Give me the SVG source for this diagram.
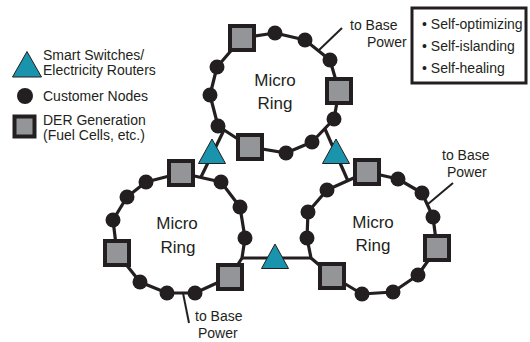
<svg xmlns="http://www.w3.org/2000/svg" width="530" height="342" viewBox="0 0 530 342">
<style>
.ring{fill:none;stroke:#231f20;stroke-width:3.2;stroke-linejoin:round}
.ln{stroke:#231f20;stroke-width:3.2;fill:none}
.thin{stroke:#231f20;stroke-width:2;fill:none}
.dot{fill:#231f20}
.sq{fill:#939598;stroke:#231f20;stroke-width:4}
.tri{fill:#1a93ad;stroke:#231f20;stroke-width:1}
text{font-family:"Liberation Sans",Arial,sans-serif;fill:#231f20}
.lg{font-size:14px}
.rl{font-size:17px;text-anchor:middle}
.bp{font-size:14px}
.bx{font-size:14px}
</style>
<defs>
<circle id="d" r="7.5" class="dot"/>
<rect id="s" x="-12" y="-12" width="24" height="24" class="sq"/>
<path id="t" d="M0,-13 L13.5,11.5 L-13.5,11.5 Z" class="tri"/>
</defs>

<g id="connectors">
<polygon class="ring" points="242,38 275,33 305,40 330,60 339,91 334,119 312,142 286,153 250,147 218,126 210,95 217,67"/>
<polygon class="ring" points="181,173 221,182 240,207 245,238 242,258 230,277 195,293 167,293 140,282 117,253 113,220 127,197 146,182"/>
<polygon class="ring" points="367,172 398,179 422,193 433,217 437,248 418,275 393,292 362,294 332,276 311,258 307,238 308,212 327,190"/>
<path class="ln" d="M224,130 L201,177"/>
<path class="ln" d="M325,129 L348,181"/>
<path class="ln" d="M242,258 L311,258"/>
<path class="thin" d="M318,51 L342,28"/>
<path class="thin" d="M183,293 L189,323"/>
<path class="thin" d="M428,204 L453,183"/>
</g>

<g id="legend">
<path d="M27,51.5 L41.5,77 L12.5,77 Z" class="tri"/>
<text class="lg" x="43" y="60">Smart Switches/</text>
<text class="lg" x="43" y="75">Electricity Routers</text>
<circle cx="25" cy="96" r="8" class="dot"/>
<text class="lg" x="43" y="101">Customer Nodes</text>
<rect x="14.5" y="116.5" width="20" height="20" class="sq"/>
<text class="lg" x="43" y="125">DER Generation</text>
<text class="lg" x="43" y="140">(Fuel Cells, etc.)</text>
</g>

<g id="features">
<rect x="412" y="8" width="114" height="75" fill="none" stroke="#231f20" stroke-width="3"/>
<text class="bx" x="422" y="29">• Self-optimizing</text>
<text class="bx" x="422" y="51">• Self-islanding</text>
<text class="bx" x="422" y="72.5">• Self-healing</text>
</g>

<g id="ring-top">
<use href="#s" x="242" y="38"/><use href="#d" x="275" y="33"/><use href="#d" x="305" y="40"/><use href="#d" x="330" y="60"/>
<use href="#s" x="339" y="91"/><use href="#d" x="334" y="119"/><use href="#d" x="312" y="142"/><use href="#d" x="286" y="153"/>
<use href="#s" x="250" y="147"/><use href="#d" x="218" y="126"/><use href="#d" x="210" y="95"/><use href="#d" x="217" y="67"/>
<text class="rl" x="275" y="86">Micro</text>
<text class="rl" x="275" y="109">Ring</text>
</g>

<g id="ring-left">
<use href="#s" x="181" y="173"/><use href="#d" x="221" y="182"/><use href="#d" x="240" y="207"/><use href="#d" x="245" y="238"/>
<use href="#s" x="230" y="277"/><use href="#d" x="195" y="293"/><use href="#d" x="167" y="293"/><use href="#d" x="140" y="282"/>
<use href="#s" x="117" y="253"/><use href="#d" x="113" y="220"/><use href="#d" x="127" y="197"/><use href="#d" x="146" y="182"/>
<text class="rl" x="177" y="229">Micro</text>
<text class="rl" x="178" y="253">Ring</text>
</g>

<g id="ring-right">
<use href="#s" x="367" y="172"/><use href="#d" x="398" y="179"/><use href="#d" x="422" y="193"/><use href="#d" x="433" y="217"/>
<use href="#s" x="437" y="248"/><use href="#d" x="418" y="275"/><use href="#d" x="393" y="292"/><use href="#d" x="362" y="294"/>
<use href="#s" x="332" y="276"/><use href="#d" x="307" y="238"/><use href="#d" x="308" y="212"/><use href="#d" x="327" y="190"/>
<text class="rl" x="373" y="228">Micro</text>
<text class="rl" x="373" y="251">Ring</text>
</g>

<g id="switch-left"><use href="#t" x="212" y="152"/></g>
<g id="switch-right"><use href="#t" x="336" y="152"/></g>
<g id="switch-bottom"><use href="#t" x="275" y="257"/></g>

<g id="base-top">
<text class="bp" x="350" y="30">to Base</text>
<text class="bp" x="367" y="47">Power</text>
</g>
<g id="base-right">
<text class="bp" x="442" y="160">to Base</text>
<text class="bp" x="447" y="177">Power</text>
</g>
<g id="base-left">
<text class="bp" x="195" y="321">to Base</text>
<text class="bp" x="198" y="338">Power</text>
</g>
</svg>
